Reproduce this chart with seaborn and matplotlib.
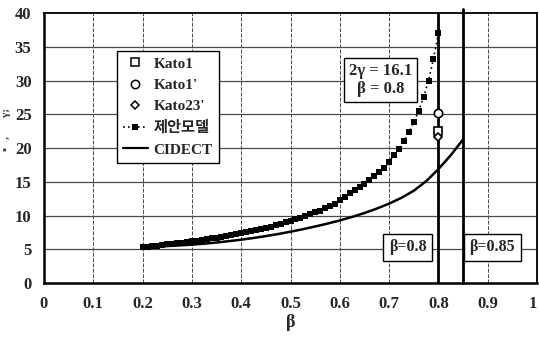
import matplotlib
matplotlib.use("Agg")
import matplotlib.pyplot as plt
import seaborn as sns
import pandas as pd
from matplotlib.lines import Line2D

# Proposed model (제안모델), sampled every 0.01 in beta
beta_model = [round(0.20 + 0.01 * i, 2) for i in range(61)]
gamma_model = [5.30, 5.38, 5.46, 5.55, 5.63, 5.72, 5.81, 5.90, 5.99, 6.09,
               6.19, 6.29, 6.40, 6.51, 6.62, 6.74, 6.86, 6.99, 7.12, 7.26,
               7.40, 7.55, 7.70, 7.86, 8.02, 8.19, 8.37, 8.56, 8.76, 8.97,
               9.19, 9.42, 9.66, 9.91, 10.17, 10.45, 10.74, 11.05, 11.38, 11.75,
               12.30, 12.80, 13.30, 13.80, 14.20, 14.70, 15.20, 15.80, 16.40, 17.10,
               18.00, 18.90, 19.90, 21.00, 22.30, 23.80, 25.50, 27.50, 30.00, 33.20,
               37.00]

# CIDECT design curve
beta_cidect = [0.200, 0.225, 0.250, 0.275, 0.300, 0.325, 0.350, 0.375,
               0.400, 0.425, 0.450, 0.475, 0.500, 0.525, 0.550, 0.575,
               0.600, 0.625, 0.650, 0.675, 0.700, 0.725, 0.750, 0.775,
               0.800, 0.825, 0.850]
gamma_cidect = [5.30, 5.38, 5.47, 5.57, 5.68, 5.83, 6.00, 6.20,
                6.42, 6.67, 6.95, 7.26, 7.60, 7.97, 8.37, 8.80,
                9.27, 9.79, 10.37, 11.02, 11.76, 12.62, 13.67, 15.07,
                16.87, 18.92, 21.27]

# Test results
kato_names = ["Kato1", "Kato1'", "Kato23'"]
kato_beta = [0.8, 0.8, 0.8]
kato_value = [22.5, 25.2, 21.7]
kato_markers = ["s", "o", "D"]

x_ticks = [0, 0.1, 0.2, 0.3, 0.4, 0.5, 0.6, 0.7, 0.8, 0.9, 1]
x_tick_labels = ["0", "0.1", "0.2", "0.3", "0.4", "0.5", "0.6", "0.7", "0.8", "0.9", "1"]
y_ticks = [0, 5, 10, 15, 20, 25, 30, 35, 40]

limit_betas = [0.8, 0.85]

sns.set_style("white")
plt.rcParams["font.family"] = ["Liberation Serif", "Noto Sans CJK KR"]
plt.rcParams["font.weight"] = "bold"

fig = plt.figure(figsize=(5.39, 3.40), dpi=100)
ax = fig.add_axes([44 / 539, 57 / 340, 493 / 539, 270 / 340])

df_model = pd.DataFrame({"beta": beta_model, "gamma": gamma_model})
df_cidect = pd.DataFrame({"beta": beta_cidect, "gamma": gamma_cidect})

# grid
for yv in y_ticks[1:-1]:
    ax.axhline(yv, color="#4a4a4a", lw=0.9, zorder=0)
for xv in x_ticks[1:-1]:
    ax.axvline(xv, color="#4a4a4a", lw=0.7, ls=(0, (4, 1.5)), zorder=0)

sns.lineplot(data=df_cidect, x="beta", y="gamma", ax=ax, color="black",
             lw=1.8, zorder=3)
sns.lineplot(data=df_model, x="beta", y="gamma", ax=ax, color="black",
             lw=1.2, ls=(0, (1, 2)), marker="s", markersize=4.5,
             markeredgewidth=0, zorder=4)
for name, b, v, m in zip(kato_names, kato_beta, kato_value, kato_markers):
    ax.plot(b, v, marker=m, ms=6 if m != "D" else 4.5, mfc="white",
            mec="black", mew=1.2, ls="none", zorder=6)

ax.axvline(limit_betas[0], color="black", lw=2.0, zorder=5)
ax.axvline(limit_betas[1], color="black", lw=2.0, zorder=5, ymax=1.015,
           clip_on=False)

box = dict(boxstyle="square,pad=0.3", fc="white", ec="black", lw=1.0)
ax.text(0.683, 30.1, "2γ = 16.1\nβ = 0.8", ha="center", va="center",
        fontsize=12, fontweight="bold", bbox=box, zorder=7, linespacing=1.15)
ax.text(0.738, 5.26, "β=0.8", ha="center", va="center", fontsize=11.5,
        fontweight="bold", bbox=dict(box, boxstyle="square,pad=0.35"), zorder=7)
ax.text(0.909, 5.26, "β=0.85", ha="center", va="center", fontsize=11.5,
        fontweight="bold", bbox=dict(box, boxstyle="square,pad=0.35"), zorder=7)

ax.set_xlim(0, 1)
ax.set_ylim(0, 40)
ax.set_xticks(x_ticks)
ax.set_xticklabels(x_tick_labels)
ax.set_yticks(y_ticks)
ax.tick_params(axis="both", labelsize=12, length=0, pad=9)
for lab in ax.get_xticklabels() + ax.get_yticklabels():
    lab.set_fontweight("bold")
ax.get_xticklabels()[-1].set_horizontalalignment("right")
ax.set_xlabel("β", fontsize=13, fontweight="bold", labelpad=2)
ax.set_ylabel("")
fig.text(0.012, 0.62, "▪   ,       γ;", rotation=90, fontsize=8,
         ha="center", va="center", color="#333333")

for side, sp in ax.spines.items():
    sp.set_color("black")
    sp.set_linewidth(1.8 if side in ("left", "bottom") else 1.3)
    sp.set_visible(True)

handles = [
    Line2D([], [], marker="s", mfc="white", mec="black", mew=1.1, ms=6, ls="none"),
    Line2D([], [], marker="o", mfc="white", mec="black", mew=1.1, ms=6, ls="none"),
    Line2D([], [], marker="D", mfc="white", mec="black", mew=1.1, ms=4.5, ls="none"),
    Line2D([], [], color="black", lw=1.2, ls=(0, (1, 2)), marker="s", ms=4,
           mew=0),
    Line2D([], [], color="black", lw=1.6),
]
labels = kato_names + ["제안모델", "CIDECT"]
leg = ax.legend(handles, labels, loc="upper left", bbox_to_anchor=(0.148, 0.86),
                frameon=True, fancybox=False, edgecolor="black", framealpha=1,
                fontsize=11, handlelength=1.6, handletextpad=0.4,
                labelspacing=0.5, borderpad=0.4, borderaxespad=0)
leg.get_frame().set_linewidth(1.0)
for t in leg.get_texts():
    t.set_fontweight("bold")

fig.savefig("out.png", dpi=100)
